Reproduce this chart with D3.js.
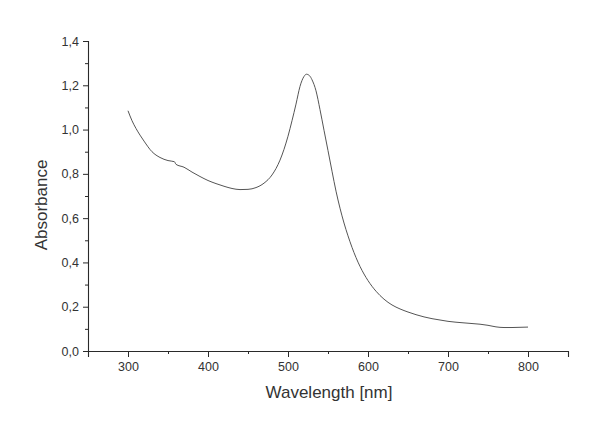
<!DOCTYPE html>
<html>
<head>
<meta charset="utf-8">
<script src="https://cdn.jsdelivr.net/npm/d3@7"></script>
<style>
  html, body { margin: 0; padding: 0; background: #fff; }
  svg { display: block; }
  text { font-family: "Liberation Sans", Arial, Helvetica, sans-serif; }
</style>
</head>
<body>
<svg id="chart" width="600" height="436"></svg>
<script>
// ---- Data ----
const wavelengths = [300, 305, 310, 315, 320, 330, 340, 350, 358, 360, 370, 380, 390, 400,
  410, 420, 430, 440, 450, 460, 470, 480, 490, 500, 505, 510, 515, 520, 523, 527, 530,
  535, 540, 545, 550, 555, 560, 565, 570, 575, 580, 590, 600, 610, 620, 630, 640, 650, 660,
  670, 680, 690, 700, 710, 720, 730, 740, 750, 760, 770, 780, 790, 800];
const absorbance = [1.085, 1.040, 1.005, 0.975, 0.948, 0.900, 0.874, 0.860, 0.855, 0.843,
  0.830, 0.808, 0.788, 0.770, 0.756, 0.744, 0.734, 0.729, 0.730, 0.738, 0.758, 0.795,
  0.862, 0.970, 1.040, 1.115, 1.195, 1.240, 1.250, 1.243, 1.225, 1.175, 1.090, 0.997,
  0.905, 0.812, 0.722, 0.645, 0.578, 0.520, 0.468, 0.382, 0.318, 0.270, 0.234, 0.208, 0.190,
  0.176, 0.164, 0.154, 0.146, 0.140, 0.134, 0.130, 0.127, 0.124, 0.121, 0.116, 0.109,
  0.106, 0.106, 0.107, 0.108];

const xMajorTicks = [300, 400, 500, 600, 700, 800];
const xMinorTicks = [250, 350, 450, 550, 650, 750, 850];
const yMajorTicks = [0.0, 0.2, 0.4, 0.6, 0.8, 1.0, 1.2, 1.4];
const yMinorTicks = [0.1, 0.3, 0.5, 0.7, 0.9, 1.1, 1.3];
const xTitle = "Wavelength [nm]";
const yTitle = "Absorbance";

// ---- Layout ----
const svg = d3.select("#chart");
const pLeft = 88, pRight = 568, pTop = 41, pBottom = 351;

const x = d3.scaleLinear().domain([250, 850]).range([pLeft, pRight]);
const y = d3.scaleLinear().domain([0, 1.4]).range([pBottom, pTop]);

const locale = d3.formatLocale({decimal: ",", thousands: ".", grouping: [3], currency: ["", ""]});
const fmt = locale.format(".1f");

const axisColor = "#2a2a2a";
const labelColor = "#333";

// X axis
const gx = svg.append("g").attr("transform", `translate(0,${pBottom})`);
gx.call(d3.axisBottom(x).tickValues(xMajorTicks).tickSize(6).tickPadding(5).tickFormat(d3.format("d")));
const gxm = svg.append("g").attr("transform", `translate(0,${pBottom})`);
gxm.call(d3.axisBottom(x).tickValues(xMinorTicks).tickSize(3).tickFormat(""));
gxm.select(".domain").remove();

// Y axis
const gy = svg.append("g").attr("transform", `translate(${pLeft},0)`);
gy.call(d3.axisLeft(y).tickValues(yMajorTicks).tickSize(5).tickPadding(4).tickFormat(fmt));
const gym = svg.append("g").attr("transform", `translate(${pLeft},0)`);
gym.call(d3.axisLeft(y).tickValues(yMinorTicks).tickSize(3).tickFormat(""));
gym.select(".domain").remove();

svg.selectAll(".domain").attr("stroke", axisColor).attr("stroke-width", 1.1);
svg.selectAll(".tick line").attr("stroke", axisColor).attr("stroke-width", 1);
svg.selectAll(".tick text")
  .attr("fill", labelColor)
  .style("font-size", "12.5px")
  .style("font-family", "'Liberation Sans', Arial, sans-serif");

// Titles
svg.append("text")
  .attr("x", (pLeft + pRight) / 2 + 1)
  .attr("y", 398)
  .attr("text-anchor", "middle")
  .attr("fill", labelColor)
  .style("font-size", "17px")
  .text(xTitle);

svg.append("text")
  .attr("transform", `translate(47,${(pTop + pBottom) / 2 + 9}) rotate(-90)`)
  .attr("text-anchor", "middle")
  .attr("fill", labelColor)
  .style("font-size", "17px")
  .text(yTitle);

// Curve
const data = wavelengths.map((w, i) => ({w, a: absorbance[i]}));
const line = d3.line()
  .x(d => x(d.w))
  .y(d => y(d.a))
  .curve(d3.curveMonotoneX);

svg.append("path")
  .datum(data)
  .attr("d", line)
  .attr("fill", "none")
  .attr("stroke", "#555")
  .attr("stroke-width", 1);
</script>
</body>
</html>
